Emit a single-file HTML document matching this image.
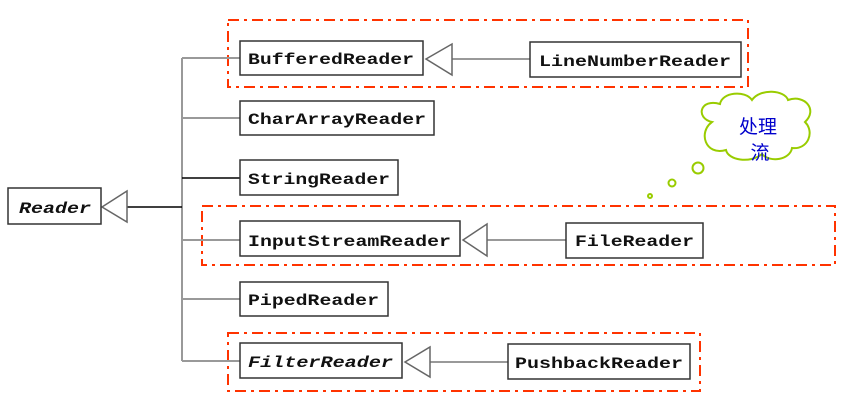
<!DOCTYPE html>
<html><head><meta charset="utf-8"><style>body{margin:0;background:#fff}svg{display:block}</style></head><body>
<svg width="844" height="402" xmlns="http://www.w3.org/2000/svg" font-family="Liberation Mono, monospace" font-weight="bold" font-size="16">
<g fill="none" stroke="#ff3300" stroke-width="2" stroke-dasharray="11,5,3,5">
<rect x="228" y="20" width="520" height="67"/>
<rect x="202" y="206" width="633" height="59"/>
<rect x="228" y="333" width="472" height="58"/>
</g>
<g stroke="#999" stroke-width="2" fill="none">
<line x1="182" y1="58" x2="182" y2="361"/>
<line x1="182" y1="58" x2="240" y2="58"/>
<line x1="182" y1="118" x2="240" y2="118"/>
<line x1="182" y1="240" x2="240" y2="240"/>
<line x1="182" y1="299" x2="240" y2="299"/>
<line x1="182" y1="361" x2="240" y2="361"/>
<line x1="452" y1="59" x2="530" y2="59"/>
<line x1="487" y1="240" x2="566" y2="240"/>
<line x1="430" y1="362" x2="508" y2="362"/>
</g>
<g stroke="#000" stroke-width="1.5">
<line x1="127" y1="207" x2="182" y2="207"/>
<line x1="182" y1="178" x2="240" y2="178"/>
</g>
<g stroke="#666" stroke-width="1.5" fill="#fff">
<polygon points="102,207 127,191 127,222"/>
<polygon points="426,59 452,44 452,75"/>
<polygon points="463,240 487,224 487,256"/>
<polygon points="405,362 430,347 430,377"/>
</g>
<g stroke="#333" stroke-width="1.5" fill="#fff">
<rect x="8" y="188" width="93" height="36"/>
<rect x="240" y="41" width="183" height="34"/>
<rect x="240" y="101" width="194" height="34"/>
<rect x="240" y="160" width="158" height="35"/>
<rect x="240" y="221" width="220" height="35"/>
<rect x="240" y="282" width="148" height="34"/>
<rect x="240" y="343" width="162" height="35"/>
<rect x="530" y="42" width="211" height="35"/>
<rect x="566" y="223" width="137" height="35"/>
<rect x="508" y="344" width="182" height="35"/>
</g>
<g fill="#111">
<text x="19" y="213" font-style="italic" textLength="72" lengthAdjust="spacingAndGlyphs">Reader</text>
<text x="248" y="64" textLength="166" lengthAdjust="spacingAndGlyphs">BufferedReader</text>
<text x="248" y="124" textLength="178" lengthAdjust="spacingAndGlyphs">CharArrayReader</text>
<text x="248" y="184" textLength="142" lengthAdjust="spacingAndGlyphs">StringReader</text>
<text x="248" y="246" textLength="203" lengthAdjust="spacingAndGlyphs">InputStreamReader</text>
<text x="248" y="305" textLength="131" lengthAdjust="spacingAndGlyphs">PipedReader</text>
<text x="248" y="367" font-style="italic" textLength="145" lengthAdjust="spacingAndGlyphs">FilterReader</text>
<text x="539" y="66" textLength="192" lengthAdjust="spacingAndGlyphs">LineNumberReader</text>
<text x="575" y="246" textLength="119" lengthAdjust="spacingAndGlyphs">FileReader</text>
<text x="515" y="368" textLength="168" lengthAdjust="spacingAndGlyphs">PushbackReader</text>
</g>
<g fill="#fff" stroke="#99cc00" stroke-width="2">
<path d="M712,122 C695,118 700,98 720,104 C722,92 745,90 752,100 C760,88 785,90 788,100 C805,94 818,110 805,122 C815,132 808,150 792,148 C790,160 770,163 762,154 C750,164 728,160 726,150 C705,156 698,132 712,122 Z"/>
<circle cx="698" cy="168" r="5.5"/>
<circle cx="672" cy="183" r="3.5"/>
<circle cx="650" cy="196" r="2"/>
</g>
<g fill="#0000cc" font-family="Liberation Sans, Noto Sans CJK SC, sans-serif" font-weight="normal" font-size="19" text-anchor="middle">
<text x="758" y="133">处理</text>
<text x="760" y="159">流</text>
</g>
</svg>
</body></html>
